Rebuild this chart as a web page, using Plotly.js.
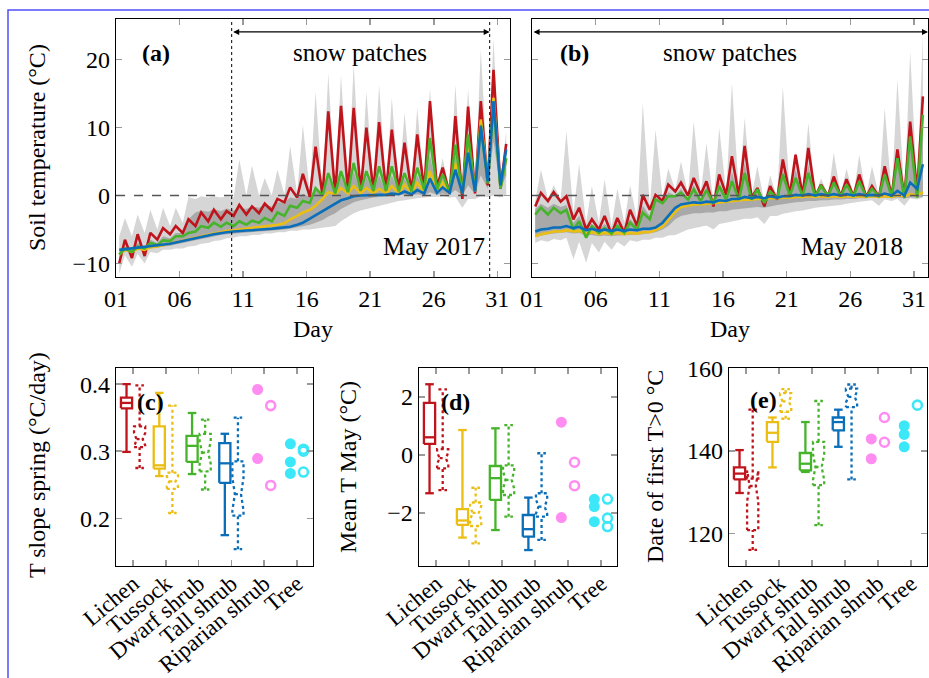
<!DOCTYPE html>
<html>
<head>
<meta charset="utf-8">
<script src="https://cdn.plot.ly/plotly-3.0.1.min.js"></script>
<style>body{margin:0;background:#fff}</style>
</head>
<body>
<div id="chart" style="width:929px;height:678px"></div>
<script>
// daily night minimum / afternoon maximum, May 2017 (panel a)
var red17Min = [-10.0,-9.2,-8.9,-6.5,-5.7,-5.5,-4.5,-3.8,-3.5,-3.0,-2.8,-2.6,-2.2,-1.0,-0.3,-0.2,0.0,0.2,0.5,0.6,0.6,0.6,0.6,0.5,0.8,1.2,0.3,-0.5,0.3,1.5,1.0];
var red17Max = [-6.5,-5.7,-5.5,-4.8,-4.5,-3.5,-2.5,-2.1,-2.3,-1.4,-1.6,-1.2,-0.5,1.2,3.2,7.2,12.4,13.2,12.9,10.0,10.8,9.7,7.8,9.0,13.9,4.1,11.7,13.1,13.9,18.5,7.6];
var yel17Min = [-8.7,-8.3,-8.0,-7.5,-7.1,-6.7,-6.2,-5.8,-5.4,-5.1,-4.9,-4.7,-4.5,-4.1,-3.0,-2.1,-0.5,0.2,0.3,0.3,0.3,0.3,0.3,0.4,0.4,0.5,0.4,0.3,0.6,2.0,1.2];
var yel17Max = [-8.0,-7.8,-7.6,-7.3,-6.9,-6.4,-6.0,-5.6,-5.2,-5.0,-4.8,-4.6,-4.3,-3.5,-2.5,-1.5,0.5,1.1,1.4,1.1,1.0,1.4,1.6,1.9,3.6,1.9,4.8,8.5,11.2,14.4,5.5];
var grn17Min = [-8.7,-8.3,-7.8,-7.3,-6.7,-6.0,-5.3,-4.75,-4.6,-4.5,-4.3,-4.0,-3.8,-3.0,-1.8,-1.1,0.0,0.3,0.5,0.7,0.7,0.7,0.6,0.6,0.8,0.9,0.5,0.3,0.7,1.8,1.0];
var grn17Max = [-7.8,-7.5,-7.0,-6.6,-6.0,-5.5,-4.5,-4.0,-4.0,-3.8,-3.7,-3.3,-2.5,-1.5,-0.8,1.1,3.3,3.6,4.8,3.6,4.3,4.3,3.3,4.1,8.5,3.1,7.5,9.0,10.4,13.4,5.5];
var blu17Min = [-8.0,-7.8,-7.6,-7.4,-7.1,-6.7,-6.3,-5.9,-5.5,-5.3,-5.15,-5.05,-4.9,-4.7,-4.3,-3.4,-2.3,-1.2,-0.4,0.0,0.05,0.1,0.2,0.2,0.3,0.4,0.4,0.3,0.6,2.1,1.5];
var blu17Max = [-7.9,-7.7,-7.5,-7.2,-6.9,-6.5,-6.1,-5.7,-5.4,-5.2,-5.1,-5.0,-4.8,-4.6,-4.0,-2.9,-1.8,-0.7,-0.1,0.05,0.1,0.3,0.6,0.8,2.5,1.2,3.8,6.3,10.2,13.9,6.8];
// grey envelopes (all sites / inner range)
var lite17LoMin = [-11.5,-10.5,-10.0,-8.5,-8.0,-7.8,-7.4,-7.0,-6.6,-6.2,-6.0,-5.8,-5.6,-5.4,-5.2,-5.0,-4.8,-4.5,-3.2,-2.2,-1.7,-1.2,-0.8,-0.5,-0.3,-0.2,-0.3,-1.8,-0.5,-0.2,-0.3];
var lite17LoMax = [-8.8,-8.6,-8.3,-8.0,-7.8,-7.5,-7.1,-6.7,-6.3,-6.0,-5.8,-5.6,-5.4,-5.2,-5.0,-4.9,-4.7,-3.8,-2.6,-2.0,-1.5,-1.0,-0.7,-0.4,-0.2,-0.1,-0.2,-0.5,-0.1,0.0,0.0];
var lite17HiMin = [-6.0,-6.0,-5.5,-5.0,-4.5,-4.0,-0.5,-0.3,-0.3,-0.3,0.0,0.0,0.0,0.2,0.3,0.5,0.5,0.8,1.0,1.0,1.0,1.0,1.0,1.0,1.2,1.5,0.8,0.5,1.0,2.5,1.5];
var lite17HiMax = [-3.3,-2.8,-2.1,-1.8,-1.8,-0.2,-0.1,-0.1,-0.1,5.3,4.4,2.6,3.8,7.3,10.4,15.3,18.0,17.8,19.3,15.3,16.3,14.4,12.2,12.9,15.8,5.5,16.3,15.6,21.5,23.2,9.5];
var dark17LoMin = [-8.4,-8.2,-8.0,-7.7,-7.4,-7.0,-6.6,-6.2,-5.8,-5.6,-5.4,-5.3,-5.2,-5.0,-4.7,-4.3,-3.6,-2.6,-1.4,-0.7,-0.3,-0.1,0.0,0.0,0.0,0.1,0.1,0.0,0.2,1.0,0.8];
var dark17LoMax = [-8.2,-8.0,-7.8,-7.5,-7.2,-6.8,-6.4,-6.0,-5.7,-5.5,-5.35,-5.25,-5.1,-4.9,-4.5,-4.0,-3.1,-2.0,-1.0,-0.5,-0.2,0.0,0.1,0.2,0.5,0.3,0.8,1.5,3.0,8.0,3.0];
var dark17HiMin = [-8.3,-8.0,-7.6,-7.0,-6.3,-5.5,-2.5,-2.4,-2.3,-2.2,-2.0,-1.8,-1.6,-1.0,-0.5,-0.2,0.0,0.2,0.3,0.4,0.4,0.4,0.4,0.4,0.5,0.7,0.4,0.2,0.5,1.8,1.0];
var dark17HiMax = [-7.5,-7.0,-6.5,-6.0,-5.5,-3.5,-2.2,-2.0,-1.9,-1.8,-1.6,-1.4,-1.0,-0.3,0.3,1.0,2.5,2.8,3.5,2.8,3.0,3.0,2.5,3.0,6.0,2.5,6.0,8.0,10.0,13.5,5.5];

// May 2018 (panel b)
var red18Min = [-1.6,-0.8,-0.9,-3.5,-5.0,-5.0,-5.7,-5.5,-4.5,-2.1,-0.8,0.6,0.0,0.1,-1.6,0.1,-0.1,-0.3,-1.6,-0.6,0.1,0.0,-0.1,-0.1,-0.1,-0.1,-0.2,-0.2,-0.1,-0.3,0.6];
var red18Max = [0.4,0.5,-0.1,-1.8,-3.5,-3.0,-3.3,-2.1,0.1,0.1,1.6,1.9,2.6,2.1,3.1,5.8,7.3,1.1,1.4,5.3,6.0,7.0,1.6,2.8,2.4,3.1,1.4,4.3,6.8,10.9,14.6];
var yel18Min = [-6.0,-5.5,-5.3,-5.3,-5.6,-5.7,-5.7,-5.7,-5.6,-5.4,-4.6,-2.4,-1.5,-1.3,-1.1,-0.9,-0.7,-0.6,-0.5,-0.4,-0.3,-0.2,-0.2,-0.2,-0.2,-0.2,-0.2,-0.2,-0.2,-0.1,0.0];
var yel18Max = [-5.7,-5.3,-5.1,-5.2,-5.4,-5.5,-5.5,-5.5,-5.4,-5.1,-3.6,-1.7,-1.3,-1.2,-1.0,-0.8,-0.6,-0.5,-0.4,-0.3,-0.2,-0.1,-0.1,-0.1,-0.1,-0.1,-0.1,-0.1,0.0,0.2,0.5];
var grn18Min = [-2.8,-2.8,-2.6,-5.0,-6.2,-5.5,-5.6,-5.5,-5.0,-3.5,-1.1,-0.1,-0.6,-0.8,-1.2,-0.6,-0.6,-0.6,-1.1,-0.4,-0.1,-0.1,-0.1,-0.1,-0.1,-0.1,-0.2,-0.2,-0.2,-0.4,-0.3];
var grn18Max = [-1.8,-1.8,-2.1,-3.8,-4.5,-4.8,-4.5,-4.0,-2.5,-0.6,-0.1,0.4,0.9,0.8,1.4,2.1,3.3,0.9,0.6,3.1,2.6,3.3,1.4,1.9,1.6,2.1,1.0,3.1,5.5,8.7,11.9];
var blu18Min = [-5.3,-4.9,-4.7,-4.8,-5.1,-5.2,-5.2,-5.2,-5.1,-4.9,-4.0,-1.8,-1.15,-1.1,-1.0,-0.8,-0.5,-0.4,-0.4,-0.3,-0.1,0.0,0.0,0.0,0.0,0.0,0.0,0.0,0.0,0.0,1.0];
var blu18Max = [-5.0,-4.7,-4.5,-4.6,-4.9,-5.0,-5.0,-5.0,-4.9,-4.7,-3.0,-1.3,-1.0,-0.9,-0.7,-0.5,-0.2,-0.2,-0.1,-0.1,0.1,0.2,0.2,0.2,0.2,0.2,0.1,0.3,0.7,1.9,4.6];
var lite18LoMin = [-7.0,-6.8,-6.6,-9.4,-9.9,-8.4,-8.0,-7.5,-6.8,-6.5,-6.2,-5.8,-5.0,-4.6,-5.0,-4.0,-3.6,-3.4,-4.2,-3.0,-2.5,-2.2,-1.8,-1.6,-1.4,-1.0,-0.8,-1.5,-0.8,-1.5,-0.6];
var lite18LoMax = [-6.6,-6.4,-6.2,-6.8,-7.0,-6.8,-6.8,-6.6,-6.5,-6.2,-5.9,-5.4,-4.8,-4.4,-4.2,-3.8,-3.4,-3.2,-3.0,-2.7,-2.3,-2.0,-1.7,-1.5,-1.2,-0.9,-0.7,-0.6,-0.5,-0.4,-0.3];
var lite18HiMin = [-0.8,-0.5,-0.5,-2.5,-4.0,-4.0,-4.5,-4.0,-3.5,-1.5,-0.3,0.8,0.2,0.3,-1.0,0.3,0.2,0.0,-1.0,-0.3,0.3,0.2,0.1,0.1,0.1,0.1,0.0,0.0,0.1,0.0,0.8];
var lite18HiMax = [3.8,1.5,9.5,4.6,1.4,2.4,1.0,1.5,13.6,9.7,4.0,5.0,10.9,7.7,10.0,16.6,11.4,4.3,3.0,16.1,6.5,10.7,2.5,6.3,4.0,6.0,4.3,12.9,17.1,21.2,23.9];
var dark18LoMin = [-6.1,-5.7,-5.5,-5.6,-5.9,-6.0,-6.0,-5.9,-5.8,-5.6,-5.0,-3.5,-2.8,-2.6,-2.5,-2.3,-2.0,-1.8,-1.8,-1.4,-1.1,-0.9,-0.8,-0.7,-0.6,-0.5,-0.4,-0.4,-0.4,-0.4,-0.3];
var dark18LoMax = [-5.9,-5.6,-5.4,-5.5,-5.8,-5.9,-5.9,-5.8,-5.7,-5.4,-4.5,-3.0,-2.6,-2.5,-2.3,-2.1,-1.9,-1.7,-1.6,-1.3,-1.0,-0.8,-0.7,-0.6,-0.5,-0.4,-0.3,-0.3,-0.3,-0.3,-0.2];
var dark18HiMin = [-2.0,-1.8,-1.7,-4.0,-5.2,-5.0,-5.0,-5.0,-4.6,-3.0,-1.0,0.0,-0.4,-0.5,-0.9,-0.3,-0.3,-0.3,-0.8,-0.2,0.0,0.0,0.0,0.0,0.0,0.0,-0.1,-0.1,-0.1,-0.2,0.2];
var dark18HiMax = [-1.2,-1.2,-1.4,-3.0,-4.2,-4.2,-4.0,-3.4,-1.5,-0.3,0.5,1.0,1.6,1.3,2.0,3.5,4.8,0.9,0.9,3.8,3.8,4.5,1.4,2.2,1.9,2.5,1.2,3.5,6.0,9.5,12.5];

// box statistics [low whisker, q1, median, q3, high whisker] for Lichen, Tussock, Dwarf shrub, Tall shrub
var cats = ['Lichen', 'Tussock', 'Dwarf shrub', 'Tall shrub', 'Riparian shrub', 'Tree'];
var slope17 = [[0.299,0.364,0.372,0.380,0.400],[0.263,0.274,0.279,0.337,0.387],[0.266,0.284,0.308,0.323,0.357],[0.175,0.253,0.282,0.312,0.326]];
var slope18 = [[0.275,0.306,0.318,0.337,0.398],[0.208,0.244,0.255,0.268,0.368],[0.243,0.270,0.298,0.326,0.347],[0.154,0.204,0.236,0.285,0.350]];
var slopeRip17 = [0.392, 0.289], slopeRip18 = [0.368, 0.249];
var slopeTree17 = [0.311, 0.284, 0.267], slopeTree18 = [0.303, 0.300, 0.269];

var meanT17 = [[-1.32,0.38,0.61,1.80,2.44],[-2.85,-2.41,-2.26,-1.87,0.86],[-2.59,-1.55,-0.80,-0.38,0.92],[-3.28,-2.82,-2.56,-2.07,-1.47]];
var meanT18 = [[-1.21,-0.46,-0.11,0.20,2.26],[-3.05,-2.45,-2.00,-1.64,-1.13],[-2.13,-1.38,-0.86,-0.36,1.03],[-2.93,-2.13,-1.78,-1.32,0.06]];
var meanTRip17 = [1.13, -2.16], meanTRip18 = [-0.25, -1.06];
var meanTTree17 = [-1.53, -1.78, -2.30], meanTTree18 = [-1.52, -2.18, -2.47];

var thaw17 = [[129.8,133.1,134.5,136.0,140.2],[136.0,142.2,144.4,147.0,148.1],[134.9,135.3,136.9,139.5,147.0],[141.0,145.0,147.0,148.1,150.0]];
var thaw18 = [[116.0,120.8,131.5,133.3,150.0],[147.8,149.5,152.0,154.0,155.0],[122.0,131.7,136.1,142.2,152.1],[133.1,150.6,153.1,155.1,156.1]];
var thawRip17 = [142.9, 138.1], thawRip18 = [148.1, 142.1];
var thawTree17 = [146.1, 144.0, 141.0], thawTree18 = [151.1];

var RED = '#c0141c', YEL = '#ebbe14', GRN = '#46b42a', BLU = '#0a6eb9';
var PINK = '#ff8cf0', CYAN = '#3ce8f8';
var LITE = '#d6d6d6', DARK = '#a9a9a9';
var boxColors = [RED, YEL, GRN, BLU];
var SERIF = '"Liberation Serif", "DejaVu Serif", serif';

var days = [];
for (var d = 1; d <= 31; d++) days.push(d);
var hours = [];
days.forEach(function (d) { hours.push(d + 0.25, d + 0.7); });

function zip(mins, maxs) {
  var y = [];
  for (var i = 0; i < mins.length; i++) y.push(mins[i], maxs[i]);
  return y;
}

var traces = [];

function band(lo, hi, color, xa, ya) {
  traces.push({x: hours, y: lo, xaxis: xa, yaxis: ya, mode: 'lines',
    line: {width: 0, color: color}, hoverinfo: 'skip', showlegend: false});
  traces.push({x: hours, y: hi, xaxis: xa, yaxis: ya, mode: 'lines', fill: 'tonexty',
    fillcolor: color, line: {width: 0, color: color}, hoverinfo: 'skip', showlegend: false});
}
function series(y, color, xa, ya) {
  traces.push({x: hours, y: y, xaxis: xa, yaxis: ya, mode: 'lines',
    line: {color: color, width: 2.6}, showlegend: false});
}

band(zip(lite17LoMin, lite17LoMax), zip(lite17HiMin, lite17HiMax), LITE, 'x', 'y');
band(zip(dark17LoMin, dark17LoMax), zip(dark17HiMin, dark17HiMax), DARK, 'x', 'y');
series(zip(red17Min, red17Max), RED, 'x', 'y');
series(zip(yel17Min, yel17Max), YEL, 'x', 'y');
series(zip(grn17Min, grn17Max), GRN, 'x', 'y');
series(zip(blu17Min, blu17Max), BLU, 'x', 'y');

band(zip(lite18LoMin, lite18LoMax), zip(lite18HiMin, lite18HiMax), LITE, 'x2', 'y2');
band(zip(dark18LoMin, dark18LoMax), zip(dark18HiMin, dark18HiMax), DARK, 'x2', 'y2');
series(zip(red18Min, red18Max), RED, 'x2', 'y2');
series(zip(yel18Min, yel18Max), YEL, 'x2', 'y2');
series(zip(grn18Min, grn18Max), GRN, 'x2', 'y2');
series(zip(blu18Min, blu18Max), BLU, 'x2', 'y2');

// box outlines built from the stats, solid for 2017 and dotted (notched) for 2018
var HALF = 0.17, CAP = 0.13, SHIFT = 0.2;
function boxes(stats, side, dash, xa, ya) {
  stats.forEach(function (s, i) {
    var c = i + 1 + side * SHIFT, lo = s[0], q1 = s[1], md = s[2], q3 = s[3], hi = s[4];
    var x = [], y = [];
    function seg(px, py) { x.push.apply(x, px); y.push.apply(y, py); x.push(null); y.push(null); }
    seg([c, c], [lo, q1]);
    seg([c, c], [q3, hi]);
    seg([c - CAP, c + CAP], [lo, lo]);
    seg([c - CAP, c + CAP], [hi, hi]);
    if (dash === 'solid') {
      seg([c - HALF, c + HALF, c + HALF, c - HALF, c - HALF], [q1, q1, q3, q3, q1]);
      seg([c - HALF, c + HALF], [md, md]);
    } else {
      var n = 0.3 * (q3 - q1), w = HALF * 0.55;
      seg([c - HALF, c + HALF, c + HALF, c + w, c + HALF, c + HALF, c - HALF, c - HALF, c - w, c - HALF, c - HALF],
          [q1, q1, md - n, md, md + n, q3, q3, md + n, md, md - n, q1]);
      seg([c - w, c + w], [md, md]);
    }
    traces.push({x: x, y: y, xaxis: xa, yaxis: ya, mode: 'lines', connectgaps: false,
      line: {color: boxColors[i], width: 2.3, dash: dash}, showlegend: false});
  });
}
function dots(vals, pos, side, color, open, xa, ya) {
  traces.push({x: vals.map(function () { return pos + side * SHIFT; }), y: vals,
    xaxis: xa, yaxis: ya, mode: 'markers', showlegend: false,
    marker: open ? {symbol: 'circle-open', size: 9, color: color, line: {width: 2.6, color: color}}
                 : {symbol: 'circle', size: 11, color: color}});
}
function boxPanel(s17, s18, rip17, rip18, tree17, tree18, xa, ya) {
  boxes(s17, -1, 'solid', xa, ya);
  boxes(s18, 1, 'dot', xa, ya);
  dots(rip17, 5, -1, PINK, false, xa, ya);
  dots(rip18, 5, 1, PINK, true, xa, ya);
  dots(tree17, 6, -1, CYAN, false, xa, ya);
  dots(tree18, 6, 1, CYAN, true, xa, ya);
}
boxPanel(slope17, slope18, slopeRip17, slopeRip18, slopeTree17, slopeTree18, 'x3', 'y3');
boxPanel(meanT17, meanT18, meanTRip17, meanTRip18, meanTTree17, meanTTree18, 'x4', 'y4');
boxPanel(thaw17, thaw18, thawRip17, thawRip18, thawTree17, thawTree18, 'x5', 'y5');

function ax(extra) {
  var a = {showline: true, linecolor: '#000', linewidth: 1.3, mirror: 'ticks',
    ticks: 'inside', ticklen: 6, tickwidth: 1.5, tickcolor: '#9a9a9a',
    showgrid: false, zeroline: false, fixedrange: true,
    tickfont: {family: SERIF, size: 24, color: '#000'}};
  for (var k in extra) a[k] = extra[k];
  return a;
}
var dayTicks = [1, 6, 11, 16, 21, 26, 31];
var dayText = ['01', '06', '11', '16', '21', '26', '31'];
var topY = [0.5914, 0.9720], botY = [0.1652, 0.4572];
var catFont = {family: SERIF, size: 23, color: '#000'};
function catAxis(dom, anchor) {
  return ax({domain: dom, range: [0.48, 6.49], tickvals: [1, 2, 3, 4, 5, 6], ticktext: cats,
    tickangle: -40, tickfont: catFont, ticklabelstandoff: -6, anchor: anchor});
}

var layout = {
  width: 929, height: 678,
  margin: {l: 0, r: 0, t: 0, b: 0},
  paper_bgcolor: '#fff', plot_bgcolor: '#fff',
  showlegend: false,
  font: {family: SERIF, size: 24, color: '#000'},
  xaxis: ax({domain: [0.1249, 0.5490], range: [1, 32], tickvals: dayTicks, ticktext: dayText, anchor: 'y'}),
  yaxis: ax({domain: topY, range: [-12, 26], tickvals: [-10, 0, 10, 20], anchor: 'x'}),
  xaxis2: ax({domain: [0.5727, 0.9989], range: [1, 32.1], tickvals: dayTicks, ticktext: dayText, anchor: 'y2'}),
  yaxis2: ax({domain: topY, range: [-12, 26], tickvals: [-10, 0, 10, 20], showticklabels: false, anchor: 'x2'}),
  xaxis3: catAxis([0.1249, 0.3369], 'y3'),
  yaxis3: ax({domain: botY, range: [0.129, 0.424], tickvals: [0.2, 0.3, 0.4], tickformat: '.1f', anchor: 'x3'}),
  xaxis4: catAxis([0.4510, 0.6642], 'y4'),
  yaxis4: ax({domain: botY, range: [-3.83, 3.0], tickvals: [-2, 0, 2], anchor: 'x4'}),
  xaxis5: catAxis([0.7847, 0.9978], 'y5'),
  yaxis5: ax({domain: botY, range: [112.1, 160.1], tickvals: [120, 140, 160], anchor: 'x5'}),
  shapes: [
    {type: 'rect', xref: 'paper', yref: 'paper', x0: 8 / 929, x1: 1.05, y0: -0.05, y1: 1 - 10 / 678,
      line: {color: '#4f4fff', width: 1.5}},
    {type: 'line', xref: 'x domain', yref: 'y', x0: 0, x1: 1, y0: 0, y1: 0, line: {color: '#555', width: 1.5, dash: 'dash'}},
    {type: 'line', xref: 'x2 domain', yref: 'y2', x0: 0, x1: 1, y0: 0, y1: 0, line: {color: '#555', width: 1.5, dash: 'dash'}},
    {type: 'line', xref: 'x', yref: 'y domain', x0: 10.1, x1: 10.1, y0: 0, y1: 1, line: {color: '#000', width: 1, dash: 'dot'}},
    {type: 'line', xref: 'x', yref: 'y domain', x0: 30.4, x1: 30.4, y0: 0, y1: 1, line: {color: '#000', width: 1, dash: 'dot'}}
  ],
  annotations: []
};

function note(text, x, y, xref, yref, extra) {
  var a = {text: text, x: x, y: y, xref: xref, yref: yref, showarrow: false,
    xanchor: 'center', yanchor: 'middle', font: {family: SERIF, size: 24, color: '#000'}};
  for (var k in extra) a[k] = extra[k];
  layout.annotations.push(a);
}
var big = {font: {family: SERIF, size: 25, color: '#000'}};
note('<b>(a)</b>', 4.15, 21, 'x', 'y');
note('snow patches', 20.2, 21, 'x', 'y', big);
note('May 2017', 26, -7.45, 'x', 'y', big);
note('<b>(b)</b>', 4.3, 21, 'x2', 'y2');
note('snow patches', 16.55, 21, 'x2', 'y2', big);
note('May 2018', 26.1, -7.45, 'x2', 'y2', big);
note('<b>(c)</b>', 1.52, 0.373, 'x3', 'y3');
note('<b>(d)</b>', 1.58, 1.83, 'x4', 'y4');
note('<b>(e)</b>', 1.52, 152.3, 'x5', 'y5');

note('Soil temperature (°C)', 37 / 929, 1 - 148 / 678, 'paper', 'paper', {textangle: -90});
note('Day', 313 / 929, 1 - 329 / 678, 'paper', 'paper');
note('Day', 730 / 929, 1 - 329 / 678, 'paper', 'paper');
note('T slope spring (°C/day)', 37 / 929, 1 - 465 / 678, 'paper', 'paper', {textangle: -90});
note('Mean T May (°C)', 348 / 929, 1 - 467 / 678, 'paper', 'paper', {textangle: -90});
note('Date of first T&gt;0 °C', 655 / 929, 1 - 467 / 678, 'paper', 'paper', {textangle: -90});

function arrow(x0, x1, y, xr, yr) {
  layout.annotations.push({text: '', x: x1, y: y, ax: x0, ay: y, xref: xr, yref: yr, axref: xr, ayref: yr,
    showarrow: true, arrowhead: 2, startarrowhead: 2, arrowside: 'end+start',
    arrowsize: 1, startarrowsize: 1, arrowwidth: 1.2, arrowcolor: '#000'});
}
arrow(10.1, 30.4, 24.1, 'x', 'y');
arrow(1.0, 32.1, 24.1, 'x2', 'y2');

Plotly.newPlot('chart', traces, layout, {displayModeBar: false, staticPlot: true});
</script>
</body>
</html>
